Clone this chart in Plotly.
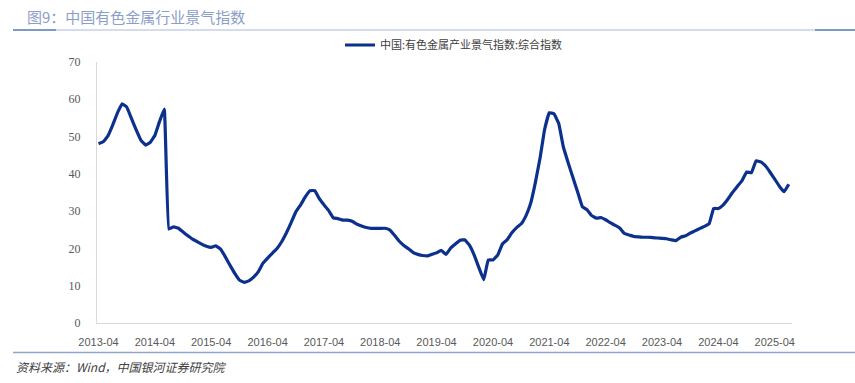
import pandas as pd
import plotly.graph_objects as go

# Monthly index, 2013-04 .. 2025-07
start_month = "2013-04-01"
values = [
    48.1, 48.6, 50.2, 53.0, 56.3, 58.8, 57.9, 54.8, 51.8, 49.0, 47.7, 48.4,
    50.3, 54.0, 57.4, 25.2, 25.8, 25.4, 24.4, 23.4, 22.5, 21.8, 21.1, 20.6,
    20.3, 20.7, 19.8, 17.8, 15.5, 13.3, 11.5, 10.9, 11.3, 12.3, 13.8, 16.0,
    17.4, 18.7, 20.0, 21.8, 24.2, 27.0, 29.8, 31.7, 33.8, 35.5, 35.5, 33.4,
    31.7, 30.2, 28.2, 28.0, 27.6, 27.6, 27.3, 26.5, 26.0, 25.6, 25.4, 25.4,
    25.4, 25.4, 25.0, 23.6, 22.0, 20.8, 19.9, 18.9, 18.4, 18.1, 18.0, 18.4,
    18.8, 19.5, 18.4, 20.1, 21.2, 22.2, 22.3, 20.8, 18.2, 14.8, 11.6, 16.9,
    16.9, 18.2, 21.2, 22.3, 24.2, 25.6, 26.6, 28.8, 32.1, 37.8, 44.5, 51.8,
    56.4, 56.1, 53.5, 47.2, 43.0, 39.0, 35.2, 31.2, 30.4, 28.8, 28.1, 28.3,
    27.7, 26.9, 26.2, 25.5, 24.0, 23.6, 23.2, 23.1, 23.0, 23.0, 22.9, 22.8,
    22.7, 22.6, 22.3, 22.1, 23.0, 23.4, 24.1, 24.7, 25.3, 25.9, 26.6, 30.7,
    30.7, 31.6, 33.2, 35.0, 36.6, 38.2, 40.5, 40.3, 43.5, 43.2, 42.1, 40.5,
    38.6, 36.7, 35.2, 37.2,
]
dates = pd.date_range(start_month, periods=len(values), freq="MS")

series_name = "中国:有色金属产业景气指数:综合指数"
title_text = "图9：中国有色金属行业景气指数"
source_text = "资料来源：Wind，中国银河证券研究院"
y_ticks = [0, 10, 20, 30, 40, 50, 60, 70]

W, H = 855, 383
L, R, T, B = 97, 63, 62, 60
PW, PH = W - L - R, H - T - B

def px_x(px):
    return (px - L) / PW

def px_y(py):
    return (H - B - py) / PH

fig = go.Figure()
fig.add_trace(go.Scatter(
    x=dates, y=values, mode="lines", name=series_name,
    line=dict(color="#0c318c", width=3.2, shape="spline", smoothing=0.25),
))

fig.update_layout(
    width=W, height=H,
    margin=dict(l=L, r=R, t=T, b=B, autoexpand=False),
    paper_bgcolor="white", plot_bgcolor="white",
    font=dict(family="Liberation Sans, Arial, sans-serif", size=11, color="#595959"),
    showlegend=True,
    legend=dict(
        orientation="h", x=px_x(454), xanchor="center",
        y=px_y(45), yanchor="middle",
        font=dict(family="Noto Sans CJK SC", size=11, color="#404040"),
        itemwidth=30, bgcolor="rgba(0,0,0,0)",
    ),
    xaxis=dict(
        range=["2013-03-22", "2025-07-22"],
        tickformat="%Y-%m", dtick="M12", tick0="2013-04-01",
        showgrid=False, zeroline=False,
        showline=True, linecolor="#d9d9d9", linewidth=1,
        ticks="", automargin=False, ticklabelstandoff=9,
        tickfont=dict(family="Liberation Sans", size=11, color="#595959"),
    ),
    yaxis=dict(
        range=[0, 70], tickvals=y_ticks,
        showgrid=False, zeroline=False,
        showline=True, linecolor="#d9d9d9", linewidth=1,
        ticks="", ticklabelstandoff=13, automargin=False,
        tickfont=dict(family="Liberation Serif", size=12, color="#595959"),
    ),
)

shapes = [
    dict(type="line", xref="paper", yref="paper", x0=px_x(13), x1=px_x(855), y0=px_y(30), y1=px_y(30),
         line=dict(color="#c6d1e7", width=1.5)),
    dict(type="line", xref="paper", yref="paper", x0=px_x(13), x1=px_x(56), y0=px_y(30), y1=px_y(30),
         line=dict(color="#7e9bc8", width=2)),
    dict(type="line", xref="paper", yref="paper", x0=px_x(815), x1=px_x(855), y0=px_y(30), y1=px_y(30),
         line=dict(color="#7e9bc8", width=2)),
    dict(type="line", xref="paper", yref="paper", x0=px_x(13), x1=px_x(855), y0=px_y(352.5), y1=px_y(352.5),
         line=dict(color="#8fa5cc", width=1.5)),
]
fig.update_layout(shapes=shapes)

fig.add_annotation(
    xref="paper", yref="paper", x=px_x(25), y=px_y(16), xanchor="left", yanchor="middle",
    text=title_text, showarrow=False,
    font=dict(family="Noto Sans CJK SC", size=15, color="#8c9ec8"),
)
fig.add_annotation(
    xref="paper", yref="paper", x=px_x(14), y=px_y(366), xanchor="left", yanchor="middle",
    text="<i>" + source_text + "</i>", showarrow=False,
    font=dict(family="Noto Sans CJK SC", size=12, color="#404040"),
)

fig.write_html(
    "out.html",
    config={"displayModeBar": False},
    post_script="document.body.style.margin='0';document.body.style.overflow='hidden';",
)
